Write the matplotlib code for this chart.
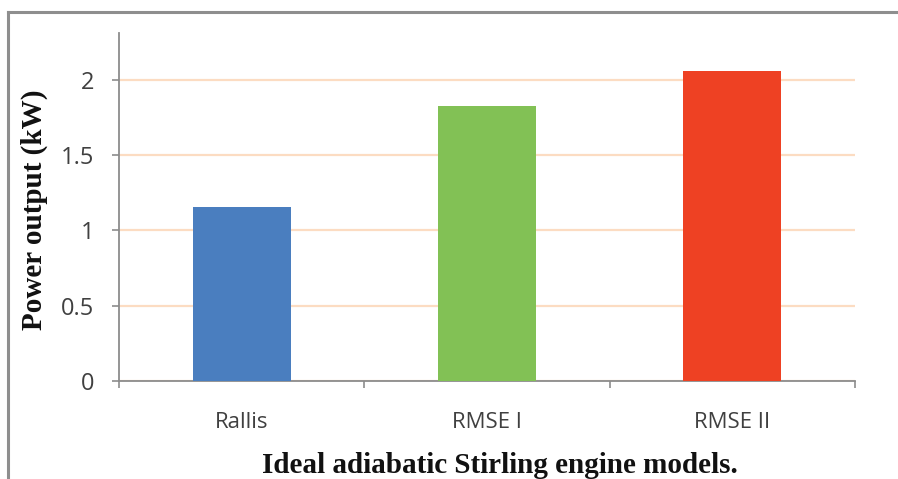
import matplotlib
matplotlib.use("Agg")
import matplotlib.pyplot as plt
from matplotlib.lines import Line2D

models = ["Rallis", "RMSE I", "RMSE II"]
power_kw = [1.155, 1.826, 2.058]
bar_colors = ["#4A7EBF", "#82C155", "#EE4123"]
y_ticks = [0, 0.5, 1, 1.5, 2]
y_tick_labels = ["0", "0.5", "1", "1.5", "2"]

W, H = 898, 479
fig = plt.figure(figsize=(W / 100, H / 100), dpi=100)
fig.patch.set_facecolor("white")

# axes rectangle in pixels: left 119, right 855, top 33, bottom 381
left, right, top, bottom = 119, 855, 33, 381
ax = fig.add_axes([left / W, 1 - bottom / H, (right - left) / W, (bottom - top) / H])

x = list(range(len(models)))
ax.bar(x, power_kw, width=0.40, color=bar_colors, zorder=3)

ax.set_xlim(-0.5, len(models) - 0.5)
ax.set_ylim(0, 2.31)
ax.set_yticks(y_ticks)
ax.set_yticklabels(y_tick_labels)
ax.set_xticks([i - 0.5 for i in range(len(models) + 1)], minor=False)
ax.set_xticklabels([""] * (len(models) + 1))
ax.set_xticks(x, minor=True)
ax.set_xticklabels(models, minor=True)

for t in ax.get_xticklabels(minor=True):
    t.set_fontfamily("Open Sans")
    t.set_fontsize(16)
    t.set_color("#404040")
for t in ax.get_yticklabels():
    t.set_fontfamily("Open Sans")
    t.set_fontsize(17)
    t.set_color("#404040")

ax.tick_params(axis="x", which="major", length=5, width=1.2, color="#8C8C8C", direction="out")
ax.tick_params(axis="x", which="minor", length=0, pad=22)
ax.tick_params(axis="y", which="major", length=5, width=1.2, color="#8C8C8C", direction="out", pad=13)

for s in ["top", "right"]:
    ax.spines[s].set_visible(False)
for s in ["left", "bottom"]:
    ax.spines[s].set_color("#8C8C8C")
    ax.spines[s].set_linewidth(1.3)

ax.yaxis.grid(True, color="#FCDCC2", linewidth=1.6, zorder=0)
ax.set_axisbelow(True)

fig.text(500 / W, 1 - 473 / H, "Ideal adiabatic Stirling engine models.",
         family="Liberation Serif", weight="bold", fontsize=21,
         ha="center", va="baseline", color="#111111")
fig.text(34 / W, 1 - 210 / H, "Power output (kW)",
         family="Liberation Serif", weight="bold", fontsize=21,
         ha="center", va="center", rotation=90, color="#111111")

# outer frame
frame_color = "#8E8E8E"
fig.add_artist(Line2D([8 / W, 8 / W], [0, 1 - 12 / H], transform=fig.transFigure,
                      color=frame_color, linewidth=2.2))
fig.add_artist(Line2D([8 / W, 1], [1 - 12 / H, 1 - 12 / H], transform=fig.transFigure,
                      color=frame_color, linewidth=2.2))

fig.savefig("out.png", dpi=100)
